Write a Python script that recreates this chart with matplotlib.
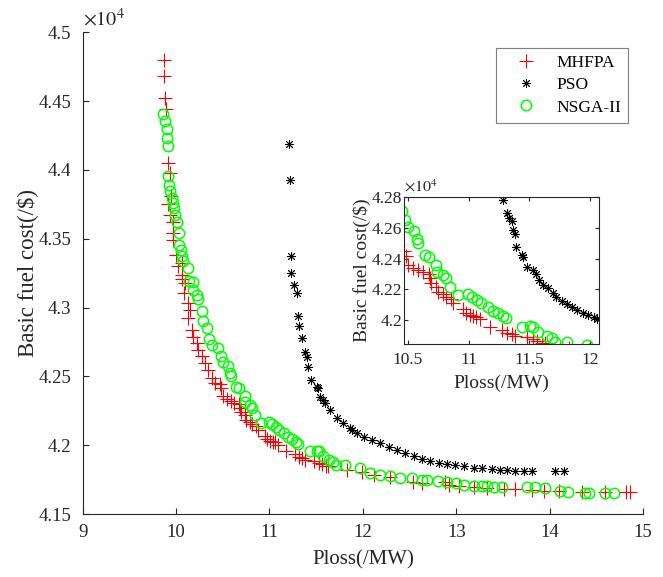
import numpy as np
import matplotlib
matplotlib.use('Agg')
import matplotlib.pyplot as plt
from matplotlib.ticker import FuncFormatter

plt.rcParams['font.family'] = ['Liberation Serif', 'DejaVu Serif']
plt.rcParams['mathtext.fontset'] = 'stix'

# Pareto fronts, cost read in units of 1e4 $
mhfpa_loss = [9.874, 9.876, 9.882, 9.893, 9.917, 9.935, 9.943, 9.917, 9.935, 9.970,
              9.970, 9.970, 10.000, 10.024, 10.060, 10.060, 10.060, 10.096, 10.080, 10.130,
              10.150, 10.130, 10.168, 10.186, 10.220, 10.239, 10.275, 10.310, 10.346, 10.380,
              10.417, 10.472, 10.486, 10.500, 10.541, 10.583, 10.624, 10.673, 10.679, 10.693,
              10.734, 10.748, 10.789, 10.817, 10.858, 10.872, 10.954, 10.976, 11.009, 11.037,
              11.064, 11.092, 11.174, 11.271, 11.312, 11.353, 11.381, 11.477, 11.527, 11.560,
              11.600, 11.630, 11.829, 11.989, 12.114, 12.290, 12.540, 12.632, 12.880, 12.917,
              13.024, 13.185, 13.329, 13.507, 13.632, 13.811, 13.935, 14.096, 14.346, 14.596,
              14.820, 14.860]
mhfpa_cost = [4.4800, 4.4680, 4.4520, 4.4440, 4.4047, 4.3980, 4.3814, 4.3750, 4.3676, 4.3620,
              4.3540, 4.3490, 4.3385, 4.3300, 4.3325, 4.3240, 4.3210, 4.3180, 4.3106, 4.3033,
              4.2985, 4.2924, 4.2840, 4.2790, 4.2742, 4.2694, 4.2645, 4.2597, 4.2548, 4.2488,
              4.2451, 4.2446, 4.2417, 4.2359, 4.2337, 4.2322, 4.2309, 4.2300, 4.2272, 4.2239,
              4.2217, 4.2185, 4.2170, 4.2152, 4.2137, 4.2109, 4.2070, 4.2043, 4.2033, 4.2026,
              4.2022, 4.2004, 4.1957, 4.1935, 4.1917, 4.1909, 4.1896, 4.1887, 4.1874, 4.1865,
              4.1852, 4.1848, 4.1820, 4.1808, 4.1784, 4.1771, 4.1735, 4.1723, 4.1735, 4.1711,
              4.1704, 4.1694, 4.1687, 4.1680, 4.1680, 4.1675, 4.1670, 4.1670, 4.1662, 4.1662,
              4.1662, 4.1662]

pso_loss = [11.214, 11.221, 11.229, 11.235, 11.267, 11.293, 11.310, 11.321, 11.346, 11.382,
            11.400, 11.417, 11.443, 11.514, 11.524, 11.543, 11.578, 11.596, 11.650, 11.720,
            11.790, 11.864, 11.880, 11.936, 12.007, 12.096, 12.186, 12.275, 12.364, 12.453,
            12.543, 12.632, 12.721, 12.810, 12.900, 12.989, 13.078, 13.185, 13.275, 13.382,
            13.471, 13.543, 13.632, 13.721, 13.811, 14.060, 14.150]
pso_cost = [4.4186, 4.3930, 4.3378, 4.3252, 4.3162, 4.3106, 4.2936, 4.2863, 4.2779, 4.2681,
            4.2640, 4.2572, 4.2475, 4.2427, 4.2415, 4.2354, 4.2330, 4.2306, 4.2257, 4.2196,
            4.2160, 4.2124, 4.2111, 4.2087, 4.2063, 4.2039, 4.2015, 4.1990, 4.1966, 4.1942,
            4.1922, 4.1898, 4.1888, 4.1873, 4.1862, 4.1854, 4.1849, 4.1837, 4.1833, 4.1825,
            4.1820, 4.1820, 4.1815, 4.1815, 4.1811, 4.1811, 4.1811]

nsga_loss = [9.864, 9.882, 9.900, 9.907, 9.917, 9.917, 9.925, 9.935, 9.954, 9.971,
             9.978, 9.989, 10.014, 10.035, 10.035, 10.050, 10.060, 10.071, 10.131, 10.142,
             10.185, 10.185, 10.221, 10.239, 10.275, 10.285, 10.329, 10.357, 10.382, 10.453,
             10.481, 10.500, 10.555, 10.574, 10.583, 10.638, 10.673, 10.734, 10.739, 10.789,
             10.811, 10.844, 10.913, 10.995, 11.031, 11.070, 11.106, 11.160, 11.202, 11.243,
             11.284, 11.306, 11.436, 11.505, 11.527, 11.573, 11.642, 11.684, 11.711, 11.813,
             11.971, 12.079, 12.186, 12.285, 12.400, 12.525, 12.632, 12.686, 12.800, 12.900,
             13.000, 13.078, 13.185, 13.275, 13.329, 13.400, 13.490, 13.757, 13.846, 13.953,
             14.107, 14.192, 14.382, 14.418, 14.596, 14.693]
nsga_cost = [4.4404, 4.4355, 4.4295, 4.4229, 4.4173, 4.3955, 4.3894, 4.3846, 4.3798, 4.3761,
             4.3725, 4.3676, 4.3620, 4.3543, 4.3458, 4.3421, 4.3373, 4.3336, 4.3288, 4.3191,
             4.3183, 4.3130, 4.3094, 4.3063, 4.2972, 4.2900, 4.2852, 4.2771, 4.2730, 4.2706,
             4.2652, 4.2604, 4.2576, 4.2526, 4.2500, 4.2424, 4.2413, 4.2359, 4.2315, 4.2293,
             4.2272, 4.2217, 4.2163, 4.2170, 4.2152, 4.2130, 4.2113, 4.2087, 4.2061, 4.2043,
             4.2026, 4.2011, 4.1957, 4.1961, 4.1957, 4.1924, 4.1896, 4.1880, 4.1859, 4.1859,
             4.1838, 4.1801, 4.1784, 4.1777, 4.1764, 4.1760, 4.1747, 4.1747, 4.1742, 4.1735,
             4.1723, 4.1711, 4.1704, 4.1704, 4.1704, 4.1694, 4.1694, 4.1694, 4.1694, 4.1687,
             4.1670, 4.1662, 4.1655, 4.1655, 4.1650, 4.1655]

# PSO front as it appears in the zoomed inset
pso_zoom_loss = [11.284, 11.312, 11.334, 11.353, 11.367, 11.381, 11.389, 11.436, 11.450, 11.483,
                 11.527, 11.554, 11.582, 11.615, 11.656, 11.697, 11.719, 11.766, 11.807, 11.849,
                 11.895, 11.945, 11.986, 12.028, 12.055]
pso_zoom_cost = [4.2783, 4.2696, 4.2663, 4.2641, 4.2587, 4.2561, 4.2478, 4.2424, 4.2409, 4.2343,
                 4.2322, 4.2300, 4.2257, 4.2228, 4.2207, 4.2178, 4.2152, 4.2126, 4.2104, 4.2087,
                 4.2065, 4.2043, 4.2033, 4.2022, 4.2009]

SCALE = 1e4
grey = '#262626'
ast = (8, 2, 0)


def draw_fronts(ax, pso_x, pso_y):
    ax.plot(mhfpa_loss, np.array(mhfpa_cost) * SCALE, '+', color='red', ms=9.5, mew=0.8,
            label='MHFPA')
    ax.plot(pso_x, np.array(pso_y) * SCALE, ls='none', marker=ast, color='black', ms=6.5,
            mew=0.65, label='PSO')
    ax.plot(nsga_loss, np.array(nsga_cost) * SCALE, 'o', mfc='none', mec='#00ff00', ms=7.5,
            mew=1.1, label='NSGA-II')


def style_axes(ax):
    ax.tick_params(colors=grey, labelcolor=grey)
    for s in ax.spines.values():
        s.set_color(grey)
        s.set_linewidth(0.8)
    ax.yaxis.set_major_formatter(FuncFormatter(lambda v, p: '%g' % round(v / SCALE, 4)))


fig = plt.figure(figsize=(6.63, 5.77), dpi=100)
ax = fig.add_axes([0.1247, 0.109, 0.8453, 0.835])
draw_fronts(ax, pso_loss, pso_cost)
ax.set_xlim(9, 15)
ax.set_ylim(41500, 45000)
ax.set_xticks(np.arange(9, 15.1, 1))
ax.set_yticks(np.arange(41500, 45001, 500))
style_axes(ax)
ax.spines['top'].set_visible(False)
ax.spines['right'].set_visible(False)
ax.tick_params(direction='in', length=4, width=0.8, labelsize=13.5)
ax.tick_params(axis='x', pad=7)
ax.tick_params(axis='y', pad=8)
ax.set_xlabel('Ploss(/MW)', fontsize=15, color=grey)
ax.set_ylabel('Basic fuel cost(/$)', fontsize=16.5, color=grey)
ax.xaxis.set_label_coords(0.5, -0.075)
ax.yaxis.set_label_coords(-0.08, 0.5)
ax.text(0.0, 1.003, r'$\times10^4$', transform=ax.transAxes, ha='left', va='bottom',
        fontsize=14.5, color=grey)

leg = ax.legend(loc='upper right', bbox_to_anchor=(628 / 663, 1 - 48 / 577),
                bbox_transform=fig.transFigure, borderaxespad=0, fancybox=False,
                edgecolor='#7f7f7f', fontsize=12.5, handlelength=2.6, handletextpad=0.45,
                labelspacing=0.35, borderpad=0.4, framealpha=1)
leg.get_frame().set_linewidth(0.8)
for t in leg.get_texts():
    t.set_color('black')

# inset
axi = fig.add_axes([0.609, 0.4038, 0.294, 0.2548])
draw_fronts(axi, pso_zoom_loss, pso_zoom_cost)
axi.set_xlim(10.467, 12.07)
axi.set_ylim(41844, 42800)
axi.set_xticks([10.5, 11, 11.5, 12])
axi.set_xticklabels(['10.5', '11', '11.5', '12'])
axi.set_yticks(np.arange(42000, 42801, 200))
style_axes(axi)
axi.tick_params(direction='in', length=3, width=0.8, labelsize=12.5, top=True, right=True)
axi.tick_params(axis='x', pad=6)
axi.tick_params(axis='y', pad=1)
axi.set_xlabel('Ploss(/MW)', fontsize=14, color=grey)
axi.set_ylabel('Basic fuel cost(/$)', fontsize=14, color=grey)
axi.xaxis.set_label_coords(0.5, -0.21)
axi.yaxis.set_label_coords(-0.17, 0.5)
axi.text(0.0, 1.01, r'$\times10^4$', transform=axi.transAxes, ha='left', va='bottom',
         fontsize=11.5, color=grey)

fig.savefig('out.png', dpi=100)
